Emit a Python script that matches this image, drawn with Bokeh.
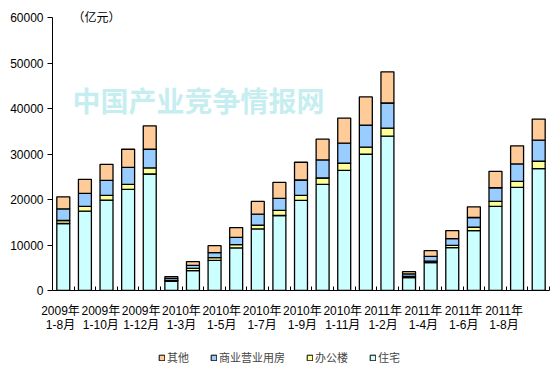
from bokeh.plotting import figure
from bokeh.layouts import column
from bokeh.models import Range1d, FixedTicker, Legend, LegendItem, Label, ColumnDataSource
from bokeh.embed import file_html
from bokeh.resources import INLINE

periods = ["2009年1-8月", "2009年1-9月", "2009年1-10月", "2009年1-11月", "2009年1-12月",
           "2010年1-2月", "2010年1-3月", "2010年1-4月", "2010年1-5月", "2010年1-6月",
           "2010年1-7月", "2010年1-8月", "2010年1-9月", "2010年1-10月", "2010年1-11月",
           "2010年1-12月", "2011年1-2月", "2011年1-3月", "2011年1-4月", "2011年1-5月",
           "2011年1-6月", "2011年1-7月", "2011年1-8月"]

residential = [14730, 17440, 19870, 22230, 25610, 2000, 4350, 6620, 9350, 13540, 16490, 19810,
               23330, 26430, 29960, 33940, 2850, 6110, 9420, 13180, 18480, 22680, 26780]
office = [660, 1040, 1040, 1110, 1330, 200, 510, 600, 740, 810, 1110, 1100,
          1400, 1550, 1550, 1760, 250, 350, 520, 730, 1100, 1320, 1640]
commercial = [2560, 2870, 3310, 3750, 4120, 450, 660, 1100, 1610, 2430, 2650, 3380,
              3970, 4410, 4860, 5520, 550, 1050, 1470, 2140, 3010, 3820, 4630]
other = [2650, 3090, 3530, 3970, 5150, 380, 810, 1540, 2140, 2800, 3530, 3910,
         4570, 5520, 6180, 6850, 480, 1260, 1770, 2350, 3610, 3980, 4640]

tick_labels = ["2009年\n1-8月", "2009年\n1-10月", "2009年\n1-12月", "2010年\n1-3月",
               "2010年\n1-5月", "2010年\n1-7月", "2010年\n1-9月", "2010年\n1-11月",
               "2011年\n1-2月", "2011年\n1-4月", "2011年\n1-6月", "2011年\n1-8月"]

series_names = ["住宅", "办公楼", "商业营业用房", "其他"]
colors = ["#CCFFFF", "#FFFF99", "#99CCFF", "#FFCC99"]

FONT = "'Liberation Sans', 'Noto Sans CJK SC'"

n = len(periods)
source = ColumnDataSource(dict(x=list(range(n)), 住宅=residential, 办公楼=office,
                               商业营业用房=commercial, 其他=other))

p = figure(width=560, height=335, output_backend="svg", toolbar_location=None,
           x_range=Range1d(-0.5, n - 0.5), y_range=Range1d(0, 62000),
           min_border_left=52, min_border_right=11, min_border_top=8, min_border_bottom=45)
p.outline_line_color = None
p.xgrid.visible = False
p.ygrid.visible = False

renderers = p.vbar_stack(series_names, x="x", width=0.6, source=source,
                         fill_color=colors, line_color="black", line_width=1.3)

# y axis
p.yaxis.ticker = FixedTicker(ticks=list(range(0, 60001, 10000)))
p.yaxis.bounds = (0, 60000)
p.yaxis.major_label_overrides = {v: str(v) for v in range(0, 60001, 10000)}
p.yaxis.axis_line_color = "black"
p.yaxis.major_tick_out = 5
p.yaxis.major_tick_in = 0
p.yaxis.minor_tick_line_color = None
p.yaxis.major_label_text_font = FONT
p.yaxis.major_label_text_font_size = "12px"
p.yaxis.major_label_text_color = "black"
p.yaxis.major_label_standoff = 4

# x axis: labels spread evenly, ticks at bar boundaries
label_pos = [-0.13 + i * 1.866 for i in range(len(tick_labels))]
boundaries = [i - 0.5 for i in range(n + 1)]
p.xaxis.ticker = FixedTicker(ticks=label_pos, minor_ticks=boundaries)
p.xaxis.major_label_overrides = {pos: lab for pos, lab in zip(label_pos, tick_labels)}
p.xaxis.axis_line_color = "black"
p.xaxis.major_tick_in = 0
p.xaxis.major_tick_out = 0
p.xaxis.minor_tick_in = 4
p.xaxis.minor_tick_out = 0
p.xaxis.minor_tick_line_color = "black"
p.xaxis.major_label_text_font = FONT
p.xaxis.major_label_text_font_size = "12px"
p.xaxis.major_label_text_line_height = 1.0
p.xaxis.major_label_text_color = "black"
p.xaxis.major_label_standoff = 13

# unit label
p.add_layout(Label(x=0.42, y=60000, text="（亿元）", text_font=FONT, text_font_size="12px",
                   text_baseline="middle", text_align="left", text_color="black"))
# watermark
p.add_layout(Label(x=0.43, y=41950, text="中国产业竞争情报网", text_font="Noto Sans CJK SC",
                   text_font_size="28px", text_font_style="bold", text_baseline="middle",
                   text_align="left", text_color="#c6eef0", level="underlay"))

# legend strip below the chart (its frame is aligned with the chart's frame by the column)
p2 = figure(width=560, height=42, output_backend="svg", toolbar_location=None,
            x_range=Range1d(0, 1), y_range=Range1d(0, 1),
            x_axis_location=None, y_axis_location=None,
            min_border_left=0, min_border_right=0, min_border_top=0, min_border_bottom=0)
p2.grid.visible = False
p2.outline_line_color = None
# zero-size swatch sources, hidden behind the opaque legend box
swatches = [p2.vbar(x=[0.5], bottom=[0.45], top=[0.45], width=0.0, fill_color=c,
                    line_color="black", line_width=1) for c in colors]
items = [LegendItem(label=name, renderers=[r]) for name, r in zip(series_names, swatches)]
legend = Legend(items=list(reversed(items)), orientation="horizontal", location=(106, 12),
                border_line_color=None, background_fill_color="white", background_fill_alpha=1.0,
                glyph_width=7, glyph_height=7,
                label_text_font=FONT, label_text_font_size="11px", spacing=21,
                label_standoff=2, padding=0, margin=0)
p2.add_layout(legend)

layout = column(p, p2, spacing=0)
open("out.html", "w").write(file_html(layout, INLINE))
